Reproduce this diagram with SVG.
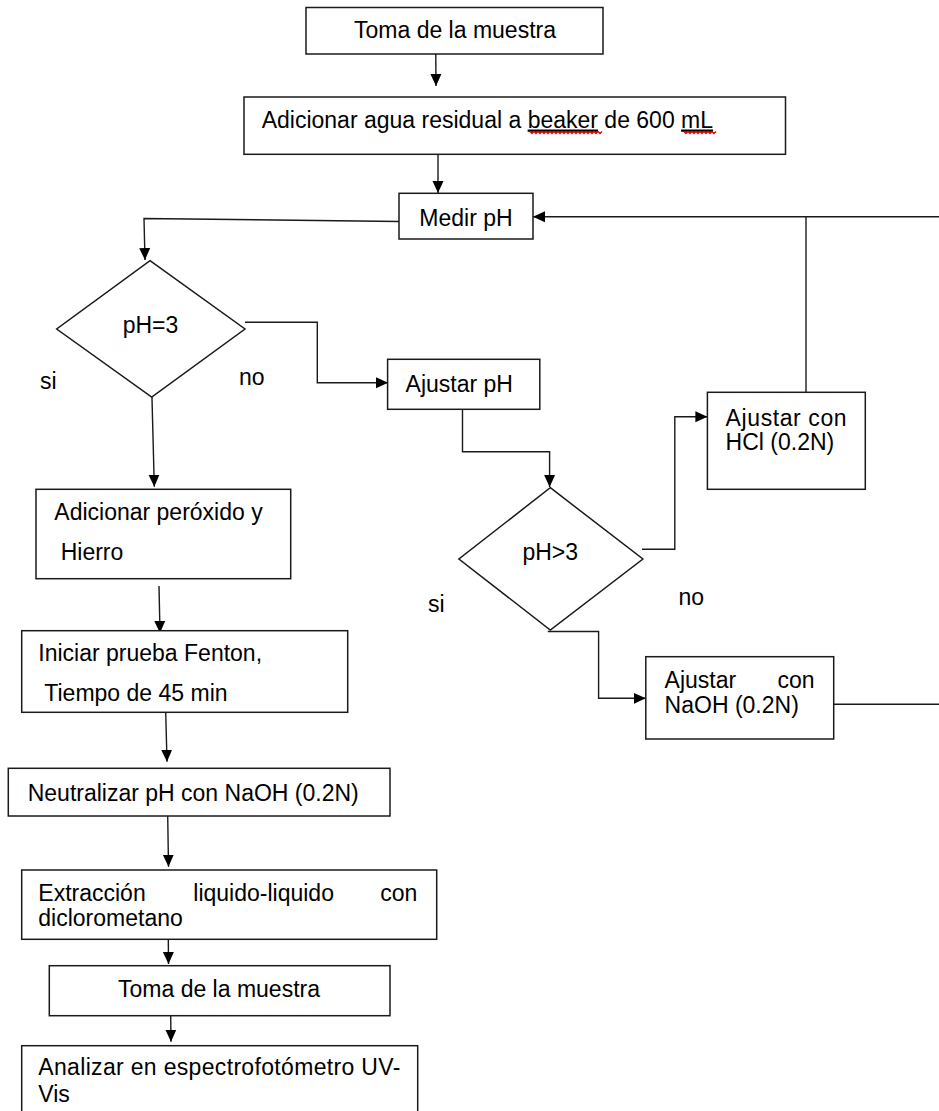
<svg xmlns="http://www.w3.org/2000/svg" width="939" height="1111" viewBox="0 0 939 1111">
<style>
.box{fill:#fff;stroke:#1a1a1a;stroke-width:1.5}
.conn{fill:none;stroke:#1a1a1a;stroke-width:1.4}
.t{font-family:"Liberation Sans",Arial,sans-serif;font-size:23px;fill:#000}
.m{text-anchor:middle}
.e{text-anchor:end}
.sq{fill:none;stroke:#e00000;stroke-width:1.3}
</style>
<defs>
<marker id="ah" markerUnits="userSpaceOnUse" markerWidth="13" markerHeight="12" refX="12" refY="6" orient="auto">
<path d="M0,0.5 L12,6 L0,11.5 z" fill="#000"/>
</marker>
</defs>
<rect width="939" height="1111" fill="#fff"/>
<g id="connectors" class="conn">
<polyline points="435.7,43 436,86" marker-end="url(#ah)"/>
<polyline points="438,145 438,193" marker-end="url(#ah)"/>
<polyline points="399,221.5 144,218.5 145,260" marker-end="url(#ah)"/>
<polyline points="245,322.3 317.3,322.3 317.3,382.7 388,382.7" marker-end="url(#ah)"/>
<polyline points="151.7,387 154.3,486.7" marker-end="url(#ah)"/>
<polyline points="462.5,409 462.5,451.7 549.6,451.7 549.6,487" marker-end="url(#ah)"/>
<polyline points="642,549.3 674.8,549.3 674.8,416.7 707.4,416.7" marker-end="url(#ah)"/>
<polyline points="547.8,631.5 598.6,631.5 598.6,698.3 645.8,698.3" marker-end="url(#ah)"/>
<polyline points="806,392.3 806,216.7"/>
<polyline points="939,216.7 533,216.7" marker-end="url(#ah)"/>
<polyline points="833.7,704.3 939,704.3"/>
<polyline points="159,586 160,633" marker-end="url(#ah)"/>
<polyline points="165.7,712 167,761.7" marker-end="url(#ah)"/>
<polyline points="167.7,816 168.5,866.7" marker-end="url(#ah)"/>
<polyline points="168.3,939 168.5,964" marker-end="url(#ah)"/>
<polyline points="170.7,1015 171,1041.7" marker-end="url(#ah)"/>
</g>
<g id="n1">
<rect class="box" x="306" y="7.5" width="297" height="46.5"/>
<text class="t m" x="455" y="38">Toma de la muestra</text>
</g>
<g id="n2">
<rect class="box" x="244" y="97" width="541.5" height="57.3"/>
<text class="t" x="261.7" y="127.5">Adicionar agua residual a <tspan text-decoration="underline">beaker</tspan> de 600 <tspan text-decoration="underline">mL</tspan></text>
<path class="sq" d="M530,131.5 l2,2 l2,-2 l2,2 l2,-2 l2,2 l2,-2 l2,2 l2,-2 l2,2 l2,-2 l2,2 l2,-2 l2,2 l2,-2 l2,2 l2,-2 l2,2 l2,-2 l2,2 l2,-2 l2,2 l2,-2 l2,2 l2,-2 l2,2 l2,-2 l2,2 l2,-2 l2,2 l2,-2 l2,2 l2,-2 l2,2 l2,-2 l2,2 l2,-2"/>
<path class="sq" d="M684,131.5 l2,2 l2,-2 l2,2 l2,-2 l2,2 l2,-2 l2,2 l2,-2 l2,2 l2,-2 l2,2 l2,-2 l2,2 l2,-2 l2,2 l2,-2"/>
</g>
<g id="n3">
<rect class="box" x="399" y="193.3" width="134" height="45.7"/>
<text class="t m" x="466" y="226">Medir pH</text>
</g>
<g id="d1">
<polygon class="box" points="150,260.7 245,329 151.7,397 56.7,329"/>
<text class="t m" x="150.5" y="332.7">pH=3</text>
</g>
<g id="lbl1">
<text class="t" x="40" y="389">si</text>
<text class="t" x="239" y="385">no</text>
</g>
<g id="n4">
<rect class="box" x="387.6" y="359.3" width="152.2" height="50"/>
<text class="t" x="405.6" y="391.7">Ajustar pH</text>
</g>
<g id="d2">
<polygon class="box" points="550.3,487.7 642.9,559 550.3,630 458.9,559"/>
<text class="t" x="522.4" y="560">pH&gt;3</text>
</g>
<g id="lbl2">
<text class="t" x="428" y="611.7">si</text>
<text class="t" x="678.4" y="605">no</text>
</g>
<g id="n5">
<rect class="box" x="707.4" y="392.3" width="157.9" height="97"/>
<text class="t" x="725.6" y="426" textLength="121" lengthAdjust="spacing">Ajustar con</text>
<text class="t" x="725.6" y="450">HCl (0.2N)</text>
</g>
<g id="n6">
<rect class="box" x="645.8" y="656.7" width="187.9" height="82.3"/>
<text class="t" x="664.6" y="688.3">Ajustar</text>
<text class="t e" x="814.5" y="688.3">con</text>
<text class="t" x="664.6" y="713.3">NaOH (0.2N)</text>
</g>
<g id="n7">
<rect class="box" x="36" y="489.3" width="254.7" height="89.4"/>
<text class="t" x="54.3" y="520">Adicionar peróxido y</text>
<text class="t" x="60.7" y="560">Hierro</text>
</g>
<g id="n8">
<rect class="box" x="21.7" y="630.7" width="326" height="81.6"/>
<text class="t" x="38.3" y="661">Iniciar prueba Fenton,</text>
<text class="t" x="44.3" y="701">Tiempo de 45 min</text>
</g>
<g id="n9">
<rect class="box" x="8.3" y="768.3" width="381.7" height="47.7"/>
<text class="t" x="27.7" y="800.7">Neutralizar pH con NaOH (0.2N)</text>
</g>
<g id="n10">
<rect class="box" x="21.7" y="870" width="415" height="69.3"/>
<text class="t" x="38.3" y="900.7">Extracción</text>
<text class="t" x="193.3" y="900.7">liquido-liquido</text>
<text class="t e" x="417.3" y="900.7">con</text>
<text class="t" x="38.3" y="926">diclorometano</text>
</g>
<g id="n11">
<rect class="box" x="49.3" y="965.7" width="340.7" height="50"/>
<text class="t m" x="219" y="997.3">Toma de la muestra</text>
</g>
<g id="n12">
<rect class="box" x="21.7" y="1045.7" width="396" height="80"/>
<text class="t" x="38.3" y="1075" textLength="362" lengthAdjust="spacing">Analizar en espectrofotómetro UV-</text>
<text class="t" x="38.3" y="1101.7">Vis</text>
</g>
</svg>
